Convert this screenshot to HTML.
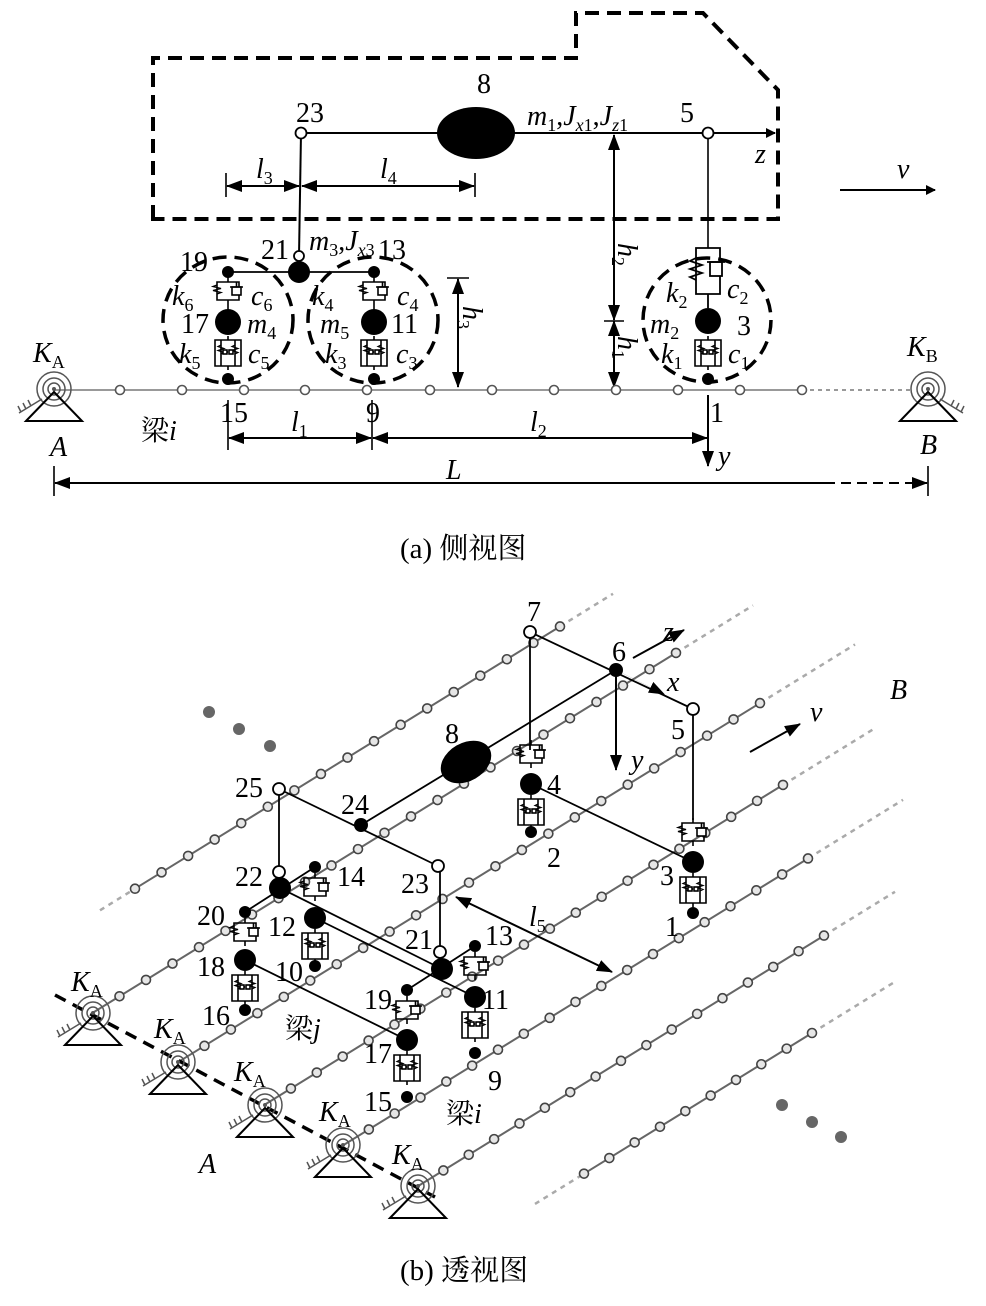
<!DOCTYPE html>
<html><head><meta charset="utf-8"><style>
html,body{margin:0;padding:0;background:#fff;}
svg{display:block;font-family:"Liberation Serif","Noto Serif CJK SC",serif;}
text{font-size:28px;fill:#000;}
.i{font-style:italic;}
.s{font-size:18px;font-style:normal;}
.si{font-size:18px;font-style:italic;}
</style></head><body>
<svg id="sv" width="986" height="1306" viewBox="0 0 986 1306" xmlns="http://www.w3.org/2000/svg">
<defs>
<marker id="ar" markerWidth="10" markerHeight="10" refX="9" refY="5" orient="auto-start-reverse" markerUnits="userSpaceOnUse"><path d="M0,0 L10,5 L0,10 Z" fill="#000"/></marker>
<marker id="ar2" markerWidth="16" markerHeight="12" refX="15" refY="6" orient="auto-start-reverse" markerUnits="userSpaceOnUse"><path d="M0,0 L16,6 L0,12 Z" fill="#000"/></marker>
<g id="U" fill="none" stroke="#000" stroke-width="1.6">
<path d="M0,0v5 M-11,5h22v18h-22z M0,23v5"/>
<path d="M-11,8l-4,1.5l8,2l-8,2l8,2l-4,1.5" stroke-width="1.3"/>
<rect x="4" y="10" width="9" height="8" fill="#fff"/><path d="M2,10h13 M8.5,5v5"/>
</g>
<g id="L" fill="none" stroke="#000" stroke-width="1.6">
<path d="M0,0v4 M-13,4h26v26h-26z M0,30v4 M-7,4v26 M7,4v26"/>
<path d="M-7,9l-3,1.5l6,2l-6,2l6,2l-3,1.5 M7,9l-3,1.5l6,2l-6,2l6,2l-3,1.5" stroke-width="1.2"/>
<rect x="-5" y="14" width="4" height="4" fill="#fff"/><rect x="1" y="14" width="4" height="4" fill="#fff"/>
<path d="M-1,16h2" stroke-dasharray="1 1"/>
</g>
<g id="SUP">
<circle r="6" fill="none" stroke="#555" stroke-width="1.5"/><circle r="11" fill="none" stroke="#555" stroke-width="1.5"/><circle r="17" fill="none" stroke="#555" stroke-width="1.5"/><circle r="2" fill="#555"/>
<path d="M-28,32 L0,3 L28,32 Z" fill="none" stroke="#000" stroke-width="2"/>
<path d="M-12,10 L-35,24 M-33,23 l-3,-6 M-28,20 l-3,-6 M-23,17 l-3,-6" fill="none" stroke="#555" stroke-width="1.5"/>
</g>
</defs>

<!-- ========== (a) side view ========== -->
<path d="M153,219 V58 H576 V13 H703 L778,90 V219 Z" fill="none" stroke="#000" stroke-width="4" stroke-dasharray="14 8"/>
<line x1="301" y1="133" x2="775" y2="133" stroke="#000" stroke-width="2" marker-end="url(#ar)"/>
<ellipse cx="476" cy="133" rx="39" ry="26" fill="#000"/>
<line x1="301" y1="133" x2="299" y2="256" stroke="#000" stroke-width="2"/>
<circle cx="301" cy="133" r="5.5" fill="#fff" stroke="#000" stroke-width="1.8"/>
<line x1="708" y1="133" x2="708" y2="248" stroke="#000" stroke-width="1.6"/>
<circle cx="708" cy="133" r="5.5" fill="#fff" stroke="#000" stroke-width="1.8"/>
<path d="M226,173v24 M475,173v24" stroke="#000" stroke-width="1.6"/>
<line x1="227" y1="186" x2="299" y2="186" stroke="#000" stroke-width="2" marker-start="url(#ar2)" marker-end="url(#ar2)"/>
<line x1="302" y1="186" x2="474" y2="186" stroke="#000" stroke-width="2" marker-start="url(#ar2)" marker-end="url(#ar2)"/>
<line x1="614" y1="135" x2="614" y2="320" stroke="#000" stroke-width="2" marker-start="url(#ar2)" marker-end="url(#ar2)"/>
<line x1="614" y1="321" x2="614" y2="387" stroke="#000" stroke-width="2" marker-start="url(#ar2)" marker-end="url(#ar2)"/>
<path d="M604,321h20" stroke="#000" stroke-width="1.6"/>
<line x1="458" y1="279" x2="458" y2="387" stroke="#000" stroke-width="2" marker-start="url(#ar2)" marker-end="url(#ar2)"/>
<path d="M447,278h22" stroke="#000" stroke-width="1.6"/>
<line x1="840" y1="190" x2="935" y2="190" stroke="#000" stroke-width="2" marker-end="url(#ar)"/>
<line x1="54" y1="390" x2="802" y2="390" stroke="#999" stroke-width="2"/>
<line x1="802" y1="390" x2="912" y2="390" stroke="#999" stroke-width="2" stroke-dasharray="4 4"/>
<g id="adots" fill="#fff" stroke="#555" stroke-width="1.6"></g>
<use href="#SUP" x="54" y="389"/>
<use href="#SUP" x="928" y="389" transform="translate(1856,0) scale(-1,1)"/>
<ellipse cx="228" cy="320" rx="65" ry="63" fill="none" stroke="#000" stroke-width="3.5" stroke-dasharray="14 8"/>
<ellipse cx="373" cy="320" rx="65" ry="63" fill="none" stroke="#000" stroke-width="3.5" stroke-dasharray="14 8"/>
<ellipse cx="707" cy="320" rx="64" ry="62" fill="none" stroke="#000" stroke-width="3.5" stroke-dasharray="14 8"/>
<line x1="228" y1="272" x2="374" y2="272" stroke="#000" stroke-width="1.8"/>
<circle cx="299" cy="272" r="11" fill="#000"/>
<circle cx="299" cy="256" r="5" fill="#fff" stroke="#000" stroke-width="1.8"/>
<circle cx="228" cy="272" r="6" fill="#000"/><circle cx="374" cy="272" r="6" fill="#000"/>
<use href="#U" x="228" y="277"/><use href="#U" x="374" y="277"/>
<line x1="228" y1="305" x2="228" y2="312" stroke="#000" stroke-width="1.6"/><line x1="374" y1="305" x2="374" y2="312" stroke="#000" stroke-width="1.6"/>
<circle cx="228" cy="322" r="13" fill="#000"/><circle cx="374" cy="322" r="13" fill="#000"/>
<use href="#L" x="228" y="336"/><use href="#L" x="374" y="336"/>
<circle cx="228" cy="379" r="6" fill="#000"/><circle cx="374" cy="379" r="6" fill="#000"/>
<!-- front suspension -->
<g fill="none" stroke="#000" stroke-width="1.8">
<path d="M696,248h24v46h-24z M708,294v14"/>
<path d="M696,258l-6,3l12,4l-12,4l12,4l-12,4l6,3"/>
<rect x="710" y="262" width="12" height="14" fill="#fff"/><path d="M707,262h18"/>
</g>
<circle cx="708" cy="321" r="13" fill="#000"/>
<use href="#L" x="708" y="336"/>
<circle cx="708" cy="379" r="6" fill="#000"/>
<path d="M228,400v50 M372,400v50 M708,400v10 M54,466v30 M928,466v30" stroke="#000" stroke-width="1.6"/>
<line x1="229" y1="438" x2="371" y2="438" stroke="#000" stroke-width="2" marker-start="url(#ar2)" marker-end="url(#ar2)"/>
<line x1="373" y1="438" x2="707" y2="438" stroke="#000" stroke-width="2" marker-start="url(#ar2)" marker-end="url(#ar2)"/>
<line x1="708" y1="395" x2="708" y2="466" stroke="#000" stroke-width="2" marker-end="url(#ar2)"/>
<line x1="55" y1="483" x2="825" y2="483" stroke="#000" stroke-width="2" marker-start="url(#ar2)"/>
<line x1="825" y1="483" x2="927" y2="483" stroke="#000" stroke-width="2" stroke-dasharray="10 6" marker-end="url(#ar2)"/>
<text x="477" y="93">8</text>
<text x="296" y="122">23</text>
<text x="680" y="122">5</text>
<text x="527" y="125" class="i">m<tspan class="s" dy="6">1</tspan><tspan dy="-6" font-style="normal">,</tspan>J<tspan class="si" dy="6">x</tspan><tspan class="s">1</tspan><tspan dy="-6" font-style="normal">,</tspan>J<tspan class="si" dy="6">z</tspan><tspan class="s">1</tspan></text>
<text x="755" y="163" class="i">z</text>
<text x="897" y="178" class="i">v</text>
<text x="256" y="178" class="i">l<tspan class="s" dy="6">3</tspan></text>
<text x="380" y="178" class="i">l<tspan class="s" dy="6">4</tspan></text>
<text transform="translate(618,243) rotate(90)" class="i">h<tspan class="s" dy="6">2</tspan></text>
<text transform="translate(618,336) rotate(90)" class="i">h<tspan class="s" dy="6">1</tspan></text>
<text transform="translate(463,306) rotate(90)" class="i">h<tspan class="s" dy="6">3</tspan></text>
<text x="180" y="271">19</text>
<text x="261" y="259">21</text>
<text x="309" y="250" class="i">m<tspan class="s" dy="6">3</tspan><tspan dy="-6" font-style="normal">,</tspan>J<tspan class="si" dy="6">x</tspan><tspan class="s">3</tspan></text>
<text x="378" y="259">13</text>
<text x="172" y="305" class="i">k<tspan class="s" dy="6">6</tspan></text>
<text x="251" y="305" class="i">c<tspan class="s" dy="6">6</tspan></text>
<text x="181" y="333">17</text>
<text x="247" y="333" class="i">m<tspan class="s" dy="6">4</tspan></text>
<text x="179" y="363" class="i">k<tspan class="s" dy="6">5</tspan></text>
<text x="248" y="363" class="i">c<tspan class="s" dy="6">5</tspan></text>
<text x="312" y="305" class="i">k<tspan class="s" dy="6">4</tspan></text>
<text x="397" y="305" class="i">c<tspan class="s" dy="6">4</tspan></text>
<text x="320" y="333" class="i">m<tspan class="s" dy="6">5</tspan></text>
<text x="391" y="333">11</text>
<text x="325" y="363" class="i">k<tspan class="s" dy="6">3</tspan></text>
<text x="396" y="363" class="i">c<tspan class="s" dy="6">3</tspan></text>
<text x="666" y="302" class="i">k<tspan class="s" dy="6">2</tspan></text>
<text x="727" y="298" class="i">c<tspan class="s" dy="6">2</tspan></text>
<text x="650" y="333" class="i">m<tspan class="s" dy="6">2</tspan></text>
<text x="737" y="335">3</text>
<text x="661" y="363" class="i">k<tspan class="s" dy="6">1</tspan></text>
<text x="728" y="363" class="i">c<tspan class="s" dy="6">1</tspan></text>
<text x="33" y="362" class="i">K<tspan class="s" dy="6">A</tspan></text>
<text x="907" y="356" class="i">K<tspan class="s" dy="6">B</tspan></text>
<text x="50" y="456" class="i">A</text>
<text x="920" y="454" class="i">B</text>
<text x="141" y="440">梁<tspan class="i">i</tspan></text>
<text x="220" y="422">15</text>
<text x="366" y="422">9</text>
<text x="710" y="422">1</text>
<text x="718" y="465" class="i">y</text>
<text x="291" y="431" class="i">l<tspan class="s" dy="6">1</tspan></text>
<text x="530" y="431" class="i">l<tspan class="s" dy="6">2</tspan></text>
<text x="446" y="479" class="i">L</text>
<text x="400" y="558" style="font-size:29px">(a)  侧视图</text>

<!-- ========== (b) perspective ========== -->
<g id="beams"></g>
<line x1="55" y1="995" x2="435" y2="1197" stroke="#000" stroke-width="3.5" stroke-dasharray="12 8"/>
<use href="#SUP" x="93" y="1013"/><use href="#SUP" x="178" y="1062"/><use href="#SUP" x="265" y="1105"/><use href="#SUP" x="343" y="1145"/><use href="#SUP" x="418" y="1186"/>
<g fill="#666"><circle cx="209" cy="712" r="6"/><circle cx="239" cy="729" r="6"/><circle cx="270" cy="746" r="6"/><circle cx="782" cy="1105" r="6"/><circle cx="812" cy="1122" r="6"/><circle cx="841" cy="1137" r="6"/></g>
<g stroke="#000" stroke-width="1.8" fill="none">
<path d="M530,632 L693,709"/>
<path d="M616,670 L361,825"/>
<path d="M279,789 L438,866"/>
<path d="M279,789 V872 M440,866 V952 M530,632 V750 M693,709 V820"/>
<path d="M531,784 L693,862"/>
<path d="M245,912 L315,867 M407,990 L475,946"/>
<path d="M280,888 L442,969 M315,918 L475,997 M245,960 L407,1040"/>
</g>
<line x1="633" y1="658" x2="684" y2="630" stroke="#000" stroke-width="2" marker-end="url(#ar2)"/>
<line x1="616" y1="670" x2="664" y2="694" stroke="#000" stroke-width="0.1" marker-end="url(#ar2)"/>
<line x1="616" y1="676" x2="616" y2="770" stroke="#000" stroke-width="2" marker-end="url(#ar2)"/>
<line x1="456" y1="897" x2="612" y2="972" stroke="#000" stroke-width="2" marker-start="url(#ar2)" marker-end="url(#ar2)"/>
<line x1="750" y1="752" x2="800" y2="724" stroke="#000" stroke-width="2" marker-end="url(#ar2)"/>
<ellipse cx="466" cy="762" rx="27" ry="19" transform="rotate(-30 466 762)" fill="#000"/>
<circle cx="616" cy="670" r="7" fill="#000"/>
<circle cx="361" cy="825" r="7" fill="#000"/>
<g fill="#fff" stroke="#000" stroke-width="1.8">
<circle cx="530" cy="632" r="6"/><circle cx="693" cy="709" r="6"/><circle cx="279" cy="789" r="6"/><circle cx="438" cy="866" r="6"/><circle cx="279" cy="872" r="6"/><circle cx="440" cy="952" r="6"/>
</g>
<use href="#U" x="531" y="740"/><circle cx="531" cy="784" r="11" fill="#000"/><use href="#L" x="531" y="795"/><circle cx="531" cy="832" r="6" fill="#000"/>
<use href="#U" x="693" y="818"/><circle cx="693" cy="862" r="11" fill="#000"/><use href="#L" x="693" y="873"/><circle cx="693" cy="913" r="6" fill="#000"/>
<circle cx="280" cy="888" r="11" fill="#000"/><circle cx="442" cy="969" r="11" fill="#000"/>
<circle cx="245" cy="912" r="6" fill="#000"/><use href="#U" x="245" y="918"/><circle cx="245" cy="960" r="11" fill="#000"/><use href="#L" x="245" y="971"/><circle cx="245" cy="1010" r="6" fill="#000"/>
<circle cx="315" cy="867" r="6" fill="#000"/><use href="#U" x="315" y="873"/><circle cx="315" cy="918" r="11" fill="#000"/><use href="#L" x="315" y="929"/><circle cx="315" cy="966" r="6" fill="#000"/>
<circle cx="407" cy="990" r="6" fill="#000"/><use href="#U" x="407" y="996"/><circle cx="407" cy="1040" r="11" fill="#000"/><use href="#L" x="407" y="1051"/><circle cx="407" cy="1097" r="6" fill="#000"/>
<circle cx="475" cy="946" r="6" fill="#000"/><use href="#U" x="475" y="952"/><circle cx="475" cy="997" r="11" fill="#000"/><use href="#L" x="475" y="1008"/><circle cx="475" cy="1053" r="6" fill="#000"/>
<text x="527" y="621">7</text><text x="612" y="661">6</text><text x="663" y="641" class="i">z</text><text x="667" y="691" class="i">x</text>
<text x="671" y="739">5</text><text x="547" y="794">4</text><text x="631" y="769" class="i">y</text>
<text x="547" y="867">2</text><text x="660" y="885">3</text><text x="665" y="936">1</text>
<text x="445" y="743">8</text><text x="341" y="814">24</text><text x="235" y="797">25</text>
<text x="401" y="893">23</text><text x="235" y="886">22</text><text x="337" y="886">14</text>
<text x="197" y="925">20</text><text x="268" y="936">12</text><text x="197" y="976">18</text><text x="275" y="981">10</text>
<text x="202" y="1025">16</text><text x="405" y="949">21</text><text x="485" y="945">13</text>
<text x="364" y="1009">19</text><text x="482" y="1009">11</text><text x="364" y="1063">17</text><text x="364" y="1111">15</text>
<text x="488" y="1090">9</text>
<text x="529" y="926" class="i">l<tspan class="s" dy="6">5</tspan></text>
<text x="810" y="721" class="i">v</text><text x="890" y="699" class="i">B</text>
<text x="285" y="1038">梁<tspan class="i">j</tspan></text>
<text x="446" y="1123">梁<tspan class="i">i</tspan></text>
<text x="199" y="1173" class="i">A</text>
<text x="71" y="991" class="i">K<tspan class="s" dy="6">A</tspan></text>
<text x="154" y="1038" class="i">K<tspan class="s" dy="6">A</tspan></text>
<text x="234" y="1081" class="i">K<tspan class="s" dy="6">A</tspan></text>
<text x="319" y="1121" class="i">K<tspan class="s" dy="6">A</tspan></text>
<text x="392" y="1164" class="i">K<tspan class="s" dy="6">A</tspan></text>
<text x="400" y="1280" style="font-size:29px">(b)  透视图</text>
</svg>
<script>
(function(){
var NS="http://www.w3.org/2000/svg";
function el(p,t,a){var e=document.createElementNS(NS,t);for(var k in a)e.setAttribute(k,a[k]);p.appendChild(e);return e;}
var ad=document.getElementById("adots");
[120,182,244,305,367,430,492,554,616,678,740,802].forEach(function(x){el(ad,"circle",{cx:x,cy:390,r:4.5});});
var b=document.getElementById("beams");
var m=0.617;
var L=[[972,135,560,100,613],[1070,93,676,93,753],[1172,178,760,178,855],[1268,265,783,265,875],[1357,343,808,343,903],[1444,418,824,418,895],[1534,584,812,535,895]];
L.forEach(function(l){var c=l[0];function y(x){return c-m*x;}
if(l[3]<l[1])el(b,"line",{x1:l[3],y1:y(l[3]),x2:l[1],y2:y(l[1]),stroke:"#aaa","stroke-width":2.5,"stroke-dasharray":"5 5"});
el(b,"line",{x1:l[2],y1:y(l[2]),x2:l[4],y2:y(l[4]),stroke:"#aaa","stroke-width":2.5,"stroke-dasharray":"5 5"});
el(b,"line",{x1:l[1],y1:y(l[1]),x2:l[2],y2:y(l[2]),stroke:"#666","stroke-width":2});
var n=Math.round((l[2]-l[1])/26);var st=(l[2]-l[1])/n;
for(var i=(l[3]<l[1]?0:1);i<=n;i++){var x=l[1]+i*st;el(b,"circle",{cx:x,cy:y(x),r:4.5,fill:"#e6e6e6",stroke:"#444","stroke-width":1.6});}
});
})();
</script>
</body></html>
